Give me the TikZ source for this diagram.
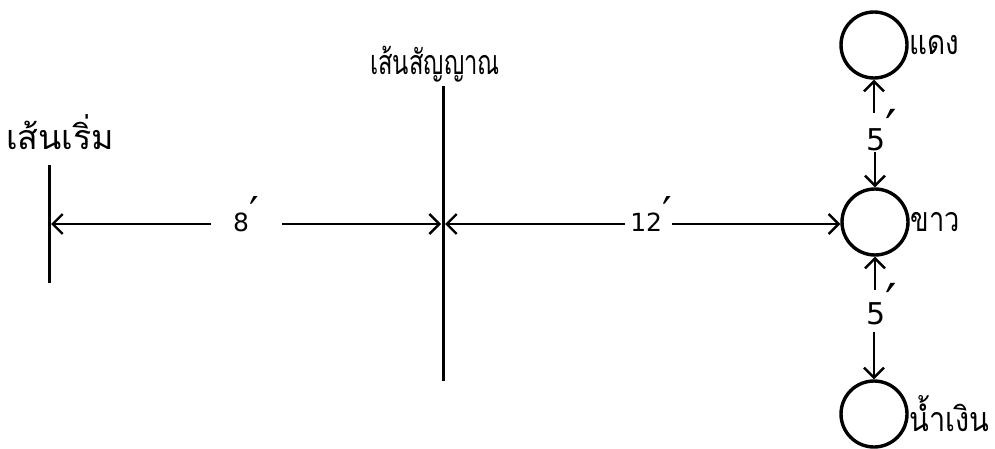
\documentclass[tikz,border=0pt]{standalone}
\usepackage{fontspec}
\usetikzlibrary{arrows.meta}
\newfontfamily\thaifont[Script=Thai]{Loma}
\newfontfamily\numfont{DejaVu Sans}
\newcommand\ftm{\raisebox{0.25ex}{\scalebox{1.7}{′}}}
\begin{document}
\begin{tikzpicture}[x=1pt,y=-1pt,
  bar/.style={line width=3pt},
  arr/.style={line width=2.4pt,-{Straight Barb[length=10pt,width=20pt,line width=2.4pt]}},
  ring/.style={circle,draw,line width=3.4pt,minimum size=66pt,inner sep=0pt},
  thl/.style={font=\thaifont\fontsize{34}{40}\selectfont,inner sep=1pt},
  num/.style={font=\numfont\fontsize{25}{28}\selectfont,inner sep=1pt},
  numb/.style={font=\numfont\fontsize{30}{34}\selectfont,inner sep=1pt}]
\useasboundingbox (0,0) rectangle (995,449);
% start line
\coordinate (s1) at (49,165);
\coordinate (s2) at (49,283);
\draw[bar] (s1) -- (s2);
\node[thl] (startlbl) at (60,132) {เส้นเริ่ม};
% signal line
\coordinate (g1) at (443,86);
\coordinate (g2) at (443,381);
\draw[bar] (g1) -- (g2);
\node[thl] (siglbl) at (435,64) {\scalebox{0.7}[1]{เส้นสัญญาณ}};
% circles
\node[ring] (red) at (874,45) {};
\node[ring] (white) at (875,222) {};
\node[ring] (blue) at (874,414) {};
\node[thl,anchor=west] (redlbl) at (red.east) {\scalebox{0.82}[1]{แดง}};
\node[thl,anchor=west] (whitelbl) at (white.east) {\scalebox{0.8}[1]{ขาว}};
\node[thl,anchor=west] (bluelbl) at (blue.east) {\scalebox{0.85}[1]{น้ำเงิน}};
% 8 ft
\node[num] (l8) at (246,214) {8\ftm};
\coordinate (a8l) at (211,224);
\coordinate (a8r) at (282,224);
\coordinate (st) at (51,224);
\coordinate (sgL) at (441,224);
\coordinate (sgR) at (445,224);
\draw[arr] (a8l) -- (st);
\draw[arr] (a8r) -- (sgL);
% 12 ft
\node[num] (l12) at (651,214) {12\ftm};
\coordinate (a12l) at (625,224);
\coordinate (a12r) at (672,224);
\draw[arr] (a12l) -- (sgR);
\draw[arr] (a12r) -- (a12r -| white.west);
% 5 ft red-white
\node[numb] (l5a) at (882,130) {5\ftm};
\coordinate (v1) at (red.south |- 0,113);
\coordinate (v2) at (white.north |- 0,152);
\draw[arr] (v1) -- (red.south);
\draw[arr] (v2) -- (white.north);
% 5 ft white-blue
\node[numb] (l5b) at (882,304) {5\ftm};
\coordinate (v3) at (white.south |- 0,290);
\coordinate (v4) at (blue.north |- 0,332);
\draw[arr] (v3) -- (white.south);
\draw[arr] (v4) -- (blue.north);
\end{tikzpicture}
\end{document}
